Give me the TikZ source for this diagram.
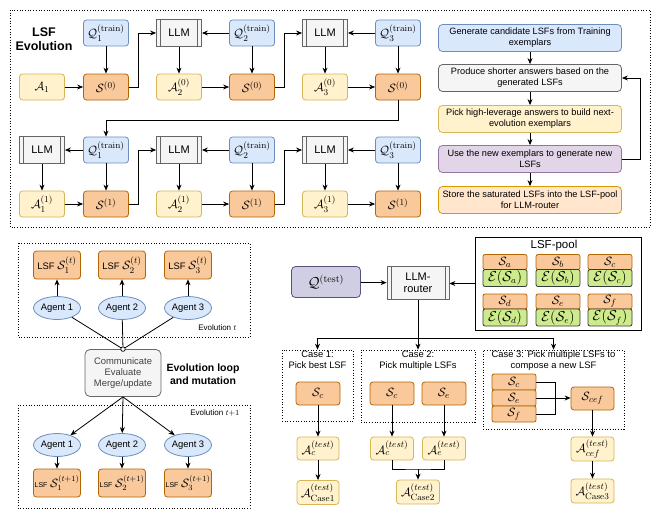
\documentclass[tikz,border=0pt]{standalone}
\usepackage[no-math]{fontspec}
\setmainfont{Liberation Sans}
\usepackage{amsmath}
\usepackage{amssymb}
\usetikzlibrary{arrows.meta,shapes.geometric}

\definecolor{qfill}{HTML}{DAE8FC}\definecolor{qline}{HTML}{6C8EBF}
\definecolor{afill}{HTML}{FFF2CC}\definecolor{aline}{HTML}{D6B656}
\definecolor{sfill}{HTML}{F9C89B}\definecolor{sline}{HTML}{B46504}
\definecolor{gfill}{HTML}{F5F5F5}\definecolor{gline}{HTML}{666666}
\definecolor{pfill}{HTML}{E1D5E7}\definecolor{pline}{HTML}{9673A6}
\definecolor{ofill}{HTML}{FFE6CC}\definecolor{oline}{HTML}{D79B00}
\definecolor{tfill}{HTML}{D0CEE2}\definecolor{tline}{HTML}{56517E}
\definecolor{efill}{HTML}{CDEB8B}\definecolor{eline}{HTML}{36393D}

\newcommand{\txtsize}{\fontsize{9.4}{11.3}\selectfont}
\newcommand{\flowsize}{\fontsize{9.2}{11.2}\selectfont}
\newcommand{\mathsize}{\fontsize{13}{15}\selectfont}
\newcommand{\llmsize}{\fontsize{11}{12.5}\selectfont}

\tikzset{
  box/.style={draw, rounded corners=3pt, line width=0.8pt, minimum width=45pt, minimum height=26pt, inner sep=1pt, font=\mathsize},
  qbox/.style={box, fill=qfill, draw=qline},
  abox/.style={box, fill=afill, draw=aline},
  sbox/.style={box, fill=sfill, draw=sline},
  llm/.style={draw=gline, fill=gfill, line width=0.8pt, minimum width=45pt, minimum height=27pt, inner sep=1pt, font=\llmsize, align=center,
    path picture={\draw[gline, line width=0.8pt]
      ([xshift=4pt]path picture bounding box.north west) -- ([xshift=4pt]path picture bounding box.south west)
      ([xshift=-4pt]path picture bounding box.north east) -- ([xshift=-4pt]path picture bounding box.south east);}},
  flow/.style={draw, rounded corners=4pt, line width=0.8pt, minimum width=183pt, minimum height=27pt, align=center, inner sep=1pt, font=\flowsize},
  agent/.style={ellipse, draw=qline, fill=qfill, line width=0.8pt, minimum width=47pt, minimum height=23pt, inner sep=0pt, font=\txtsize},
  lsfbox/.style={sbox, minimum width=47pt, minimum height=28pt, font=\txtsize},
  dotbox/.style={draw, dotted, line width=0.7pt},
  arr/.style={-{Stealth[length=6pt,width=5pt]}, line width=0.8pt},
  ln/.style={line width=0.8pt}
}

\begin{document}
\begin{tikzpicture}[x=1pt, y=-1pt]
\useasboundingbox (0,0) rectangle (660,519);

% LSF evolution
\draw[dotbox] (10,10) rectangle (650,227);
\node[font=\fontsize{12.5}{14.5}\selectfont\bfseries, align=center] (title) at (44,39) {LSF\\Evolution};

\node[abox] (a1) at (42,87) {$\mathcal{A}_1$};
\node[qbox] (q1) at (106,33) {$\mathcal{Q}_1^{(\mathrm{train})}$};
\node[sbox] (s1) at (106,87) {$\mathcal{S}^{(0)}$};
\node[llm] (l1) at (179,33) {LLM};
\node[abox] (a2) at (179,87) {$\mathcal{A}_2^{(0)}$};
\node[qbox] (q2) at (252,33) {$\mathcal{Q}_2^{(\mathrm{train})}$};
\node[sbox] (s2) at (252,87) {$\mathcal{S}^{(0)}$};
\node[llm] (l2) at (325,33) {LLM};
\node[abox] (a3) at (325,87) {$\mathcal{A}_3^{(0)}$};
\node[qbox] (q3) at (398,33) {$\mathcal{Q}_3^{(\mathrm{train})}$};
\node[sbox] (s3) at (398,87) {$\mathcal{S}^{(0)}$};

\draw[arr] (q1) -- (s1);
\draw[arr] (a1) -- (s1);
\draw[arr] (s1.east) -- ++(9,0) |- (l1.west);
\draw[arr] (l1) -- (a2);
\draw[arr] (q2) -- (l1);
\draw[arr] (q2) -- (s2);
\draw[arr] (a2) -- (s2);
\draw[arr] (s2.east) -- ++(9,0) |- (l2.west);
\draw[arr] (l2) -- (a3);
\draw[arr] (q3) -- (l2);
\draw[arr] (q3) -- (s3);
\draw[arr] (a3) -- (s3);

\node[llm] (l0b) at (42,150) {LLM};
\node[qbox] (q1b) at (106,150) {$\mathcal{Q}_1^{(\mathrm{train})}$};
\node[abox] (a1b) at (42,204) {$\mathcal{A}_1^{(1)}$};
\node[sbox] (s1b) at (106,204) {$\mathcal{S}^{(1)}$};
\node[llm] (l1b) at (179,150) {LLM};
\node[abox] (a2b) at (179,204) {$\mathcal{A}_2^{(1)}$};
\node[qbox] (q2b) at (252,150) {$\mathcal{Q}_2^{(\mathrm{train})}$};
\node[sbox] (s2b) at (252,204) {$\mathcal{S}^{(1)}$};
\node[llm] (l2b) at (325,150) {LLM};
\node[abox] (a3b) at (325,204) {$\mathcal{A}_3^{(1)}$};
\node[qbox] (q3b) at (398,150) {$\mathcal{Q}_3^{(\mathrm{train})}$};
\node[sbox] (s3b) at (398,204) {$\mathcal{S}^{(1)}$};

\draw[arr] (s3.south) -- ++(0,20) -| (q1b.north);
\draw[arr] (q1b) -- (l0b);
\draw[arr] (l0b) -- (a1b);
\draw[arr] (q1b) -- (s1b);
\draw[arr] (a1b) -- (s1b);
\draw[arr] (s1b.east) -- ++(9,0) |- (l1b.west);
\draw[arr] (l1b) -- (a2b);
\draw[arr] (q2b) -- (l1b);
\draw[arr] (q2b) -- (s2b);
\draw[arr] (a2b) -- (s2b);
\draw[arr] (s2b.east) -- ++(9,0) |- (l2b.west);
\draw[arr] (l2b) -- (a3b);
\draw[arr] (q3b) -- (l2b);
\draw[arr] (q3b) -- (s3b);
\draw[arr] (a3b) -- (s3b);

% steps of one evolution
\node[flow, fill=qfill, draw=qline] (f1) at (530,38) {Generate candidate LSFs from Training\\exemplars};
\node[flow, fill=gfill, draw=gline] (f2) at (530,78) {Produce shorter answers based on the\\generated LSFs};
\node[flow, fill=afill, draw=aline] (f3) at (530,119) {Pick high-leverage answers to build next-\\evolution exemplars};
\node[flow, fill=pfill, draw=pline] (f4) at (530,159) {Use the new exemplars to generate new\\LSFs};
\node[flow, fill=ofill, draw=oline] (f5) at (530,200) {Store the saturated LSFs into the LSF-pool\\for LLM-router};
\draw[arr] (f1) -- (f2);
\draw[arr] (f2) -- (f3);
\draw[arr] (f3) -- (f4);
\draw[arr] (f4) -- (f5);
\draw[arr] (f4.east) -- ++(18,0) |- (f2.east);

% multi-agent loop
\draw[dotbox] (18,243) rectangle (250,337);
\draw[dotbox] (18,405) rectangle (250,508);
\node[anchor=east, font=\fontsize{8}{9}\selectfont] (evt) at (240,328) {Evolution $t$};
\node[anchor=east, font=\fontsize{8}{9}\selectfont] (evtt) at (243,413) {Evolution $t{+}1$};

\node[lsfbox] (ls1) at (57,265) {LSF {\mathsize$\mathcal{S}_1^{(t)}$}};
\node[lsfbox] (ls2) at (122,265) {LSF {\mathsize$\mathcal{S}_2^{(t)}$}};
\node[lsfbox] (ls3) at (188,265) {LSF {\mathsize$\mathcal{S}_3^{(t)}$}};
\node[agent] (ag1) at (57,308) {Agent 1};
\node[agent] (ag2) at (122,308) {Agent 2};
\node[agent] (ag3) at (188,308) {Agent 3};
\draw[arr] (ag1) -- (ls1);
\draw[arr] (ag2) -- (ls2);
\draw[arr] (ag3) -- (ls3);

\node[draw=gline, fill=gfill, rounded corners=5pt, line width=0.8pt, minimum width=76pt, minimum height=47pt, align=center, inner sep=1pt, text=black!75, font=\txtsize] (comm) at (123,373) {Communicate\\Evaluate\\Merge/update};
\node[circle, draw, fill=white, line width=0.7pt, inner sep=0pt, minimum size=4.5pt] (jn) at (comm.north) {};
\draw[ln] (ag1) -- (jn);
\draw[ln] (ag2) -- (jn);
\draw[ln] (ag3) -- (jn);
\node[font=\fontsize{10.5}{13.5}\selectfont\bfseries, align=center] (loop) at (203,374) {Evolution loop\\and mutation};

\node[agent] (bg1) at (57,445) {Agent 1};
\node[agent] (bg2) at (122,445) {Agent 2};
\node[agent] (bg3) at (188,445) {Agent 3};
\draw[arr] (comm.south) -- (bg1);
\draw[arr] (comm.south) -- (bg2);
\draw[arr] (comm.south) -- (bg3);
\node[lsfbox] (lt1) at (57,483) {{\fontsize{7}{8}\selectfont LSF} {\fontsize{12}{14}\selectfont$\mathcal{S}_1^{(t+1)}$}};
\node[lsfbox] (lt2) at (122,483) {{\fontsize{7}{8}\selectfont LSF} {\fontsize{12}{14}\selectfont$\mathcal{S}_2^{(t+1)}$}};
\node[lsfbox] (lt3) at (188,483) {{\fontsize{7}{8}\selectfont LSF} {\fontsize{12}{14}\selectfont$\mathcal{S}_3^{(t+1)}$}};
\draw[arr] (bg1) -- (lt1);
\draw[arr] (bg2) -- (lt2);
\draw[arr] (bg3) -- (lt3);

% routing at test time
\node[box, fill=tfill, draw=tline, minimum width=69pt, minimum height=31pt, rounded corners=4pt, font=\fontsize{14}{16}\selectfont] (qt) at (326,282) {$\mathcal{Q}^{(\mathrm{test})}$};
\node[llm, minimum width=62pt, minimum height=33pt] (router) at (418,283) {LLM-\\router};
\draw[arr] (qt) -- (router);

\node[draw, line width=0.8pt, minimum width=166pt, minimum height=93pt] (pool) at (558,283.5) {};
\node[font=\fontsize{11.5}{13}\selectfont] (pooltitle) at (554,246) {LSF-pool};
\foreach \n/\x/\y in {a/505/262, b/558/262, c/610/262, d/505/301.5, e/558/301.5, f/610/301.5}{
  \node[sbox, minimum width=44pt, minimum height=15pt, inner sep=0pt, rounded corners=2pt] (p\n) at (\x,\y) {$\mathcal{S}_\n$};
  \node[box, fill=efill, draw=eline, minimum width=44pt, minimum height=17pt, inner sep=0pt, rounded corners=2pt, font=\fontsize{13.5}{15}\selectfont] (e\n) at (\x,\y+16) {$\mathcal{E}(\mathcal{S}_\n)$};
}
\draw[arr] (pool.west) -- (pool.west -| router.east);

\node[dotbox, minimum width=71pt, minimum height=71pt] (case1) at (317.5,385.5) {};
\node[dotbox, minimum width=114pt, minimum height=72pt] (case2) at (418,386) {};
\node[dotbox, minimum width=141pt, minimum height=79pt] (case3) at (553.5,389.5) {};
\node[anchor=north, align=center, font=\txtsize, inner sep=1pt] (t1) at (case1.north) {Case 1:\\Pick best LSF};
\node[anchor=north, align=center, font=\txtsize, inner sep=1pt] (t2) at (case2.north) {Case 2:\\Pick multiple LSFs};
\node[anchor=north, align=center, font=\txtsize, inner sep=1pt] (t3) at (case3.north) {Case 3: Pick multiple LSFs to\\compose a new LSF};

\coordinate (split) at (418,338);
\draw[ln] (split -| case1.north) -- (split -| case3.north);
\draw[arr] (router.south) -- (case2.north);
\draw[arr] (split -| case1.north) -- (case1.north);
\draw[arr] (split -| case3.north) -- (case3.north);

% case 1
\node[sbox, minimum width=44pt, minimum height=23pt] (sc1) at (318,393.5) {$\mathcal{S}_c$};
\node[abox, minimum width=42pt, minimum height=23pt] (ac1) at (318,448.5) {$\mathcal{A}_c^{(test)}$};
\node[abox, minimum width=42pt, minimum height=24pt] (af1) at (318,492.5) {$\mathcal{A}_{\mathrm{Case1}}^{(test)}$};
\draw[arr] (sc1) -- (ac1);
\draw[arr] (ac1) -- (af1);

% case 2
\node[sbox, minimum width=44pt, minimum height=23pt] (sc2) at (392,393.5) {$\mathcal{S}_c$};
\node[sbox, minimum width=44pt, minimum height=23pt] (se2) at (444,393.5) {$\mathcal{S}_e$};
\node[abox, minimum width=43pt, minimum height=23pt] (ac2) at (392,448.5) {$\mathcal{A}_c^{(test)}$};
\node[abox, minimum width=43pt, minimum height=23pt] (ae2) at (444,448.5) {$\mathcal{A}_e^{(test)}$};
\node[abox, minimum width=43pt, minimum height=24pt] (af2) at (418,492) {$\mathcal{A}_{\mathrm{Case2}}^{(test)}$};
\draw[arr] (sc2) -- (ac2);
\draw[arr] (se2) -- (ae2);
\coordinate (m2) at (418,469);
\draw[ln] (ac2.south) |- (m2) -| (ae2.south);
\draw[arr] (m2) -- (af2);

% case 3
\node[sbox, minimum width=44pt, minimum height=16pt, inner sep=0pt, rounded corners=2pt] (sc3) at (514,382) {$\mathcal{S}_c$};
\node[sbox, minimum width=44pt, minimum height=16pt, inner sep=0pt, rounded corners=2pt] (se3) at (514,398) {$\mathcal{S}_e$};
\node[sbox, minimum width=44pt, minimum height=16pt, inner sep=0pt, rounded corners=2pt] (sf3) at (514,414) {$\mathcal{S}_f$};
\node[sbox, minimum width=43pt, minimum height=23pt] (scef) at (592.5,398.5) {$\mathcal{S}_{cef}$};
\node[abox, minimum width=43pt, minimum height=24pt] (acef) at (592.5,449) {$\mathcal{A}_{cef}^{(test)}$};
\node[abox, minimum width=43pt, minimum height=24pt] (af3) at (592.5,491) {$\mathcal{A}_{\mathrm{Case3}}^{(test)}$};
\coordinate (b3) at (555,398);
\draw[ln] (sc3.east) -| (b3) |- (sf3.east);
\draw[arr] (se3.east) -- (se3.east -| scef.west);
\draw[arr] (scef) -- (acef);
\draw[arr] (acef) -- (af3);
\end{tikzpicture}
\end{document}
